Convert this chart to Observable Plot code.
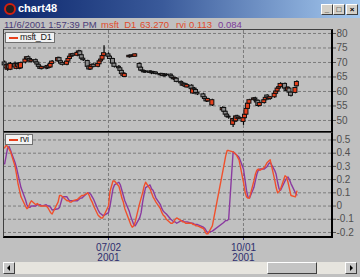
<!DOCTYPE html>
<html><head><meta charset="utf-8">
<script src="https://cdn.jsdelivr.net/npm/d3@7"></script>
<script src="https://cdn.jsdelivr.net/npm/@observablehq/plot@0.6"></script>
<style>
body{margin:0;background:#c0c0c0;font-family:"Liberation Sans",Arial,sans-serif;}
#win{position:relative;width:360px;height:277px;background:#c0c0c0;overflow:hidden;}
#title{position:absolute;left:0;top:0;width:360px;height:18px;background:linear-gradient(to right,#0a246a 0%,#3a5a9a 45%,#a6caf0 100%);}
#title .t{position:absolute;left:18px;top:2px;color:#fff;font-weight:bold;font-size:11px;}
#title .ic{position:absolute;left:4px;top:3px;width:8px;height:8px;border:2px solid #d02010;border-radius:50%;background:#222;}
.btn{position:absolute;top:4px;width:10px;height:9px;background:#d4d0c8;border:1px solid;border-color:#fff #404040 #404040 #fff;font-size:8px;line-height:9px;text-align:center;color:#000;font-weight:bold;}
.info{position:absolute;top:19px;font-size:9.5px;white-space:nowrap;}
.frame{position:absolute;box-sizing:border-box;border-left:1px solid #404040;border-top:1px solid #404040;border-right:2px solid #000;border-bottom:2px solid #000;pointer-events:none;}
.leg{position:absolute;box-sizing:border-box;background:#f2f2f2;border:1px solid #707070;font-size:9px;letter-spacing:-0.3px;color:#202020;}
.leg .ln{position:absolute;left:3px;top:4px;width:9px;height:2px;background:#e8401c;}
.leg .tx{position:absolute;left:14px;top:-1px;}
#upper,#lower{position:absolute;left:0;}
#upper{top:29px;} #lower{top:132px;}
#upper g[aria-label^="y-axis"], #lower g[aria-label^="y-axis"]{color:#505050;}
#lower g[aria-label^="x-axis"]{color:#2e2e6e;}
#sb{position:absolute;left:3px;top:262px;width:354px;height:12px;background:#e6e4de;}
.sbb{position:absolute;top:0;width:10px;height:10px;background:#c8c8c8;border:1px solid;border-color:#fff #404040 #404040 #fff;}
.tri{position:absolute;top:2px;width:0;height:0;border-top:3px solid transparent;border-bottom:3px solid transparent;}
#thumb{position:absolute;left:264px;top:0;width:48px;height:10px;background:#c4c4c4;border:1px solid;border-color:#fff #404040 #404040 #fff;}
</style></head><body>
<div id="win">
  <div id="title"><div class="ic"></div><div class="t">chart48</div>
    <div class="btn" style="left:321px">_</div><div class="btn" style="left:333px">□</div><div class="btn" style="left:346px">×</div>
  </div>
  <span class="info" style="left:4px;color:#4b3d78">11/6/2001 1:57:39 PM</span>
  <span class="info" style="left:101px;color:#e04a2a">msft_D1</span>
  <span class="info" style="left:140px;color:#e04a2a">63.270</span>
  <span class="info" style="left:176px;color:#e04a2a">rvi</span>
  <span class="info" style="left:189px;color:#e04a2a">0.113</span>
  <span class="info" style="left:218px;color:#7d3a9a">0.084</span>
  <div id="upper"></div>
  <div id="lower"></div>
  <div class="frame" style="left:3px;top:29px;width:330px;height:104px"></div>
  <div class="frame" style="left:3px;top:132px;width:330px;height:106px"></div>
  <div class="leg" style="left:5px;top:32px;width:50px;height:11px"><div class="ln"></div><div class="tx">msft_D1</div></div>
  <div class="leg" style="left:5px;top:134px;width:28px;height:11px"><div class="ln"></div><div class="tx">rvi</div></div>
  <div id="sb"><div class="sbb" style="left:0"><div class="tri" style="left:3px;border-right:3px solid #000"></div></div><div id="thumb"></div><div class="sbb" style="left:342px"><div class="tri" style="left:4px;border-left:3px solid #000"></div></div></div>
</div>
<script>
// trading days by month (2001), as [month, days]
const monthDays = [
  [4, [23,24,25,26,27,30]],
  [5, [1,2,3,4,7,8,9,10,11,14,15,16,17,18,21,22,23,24,25,29,30,31]],
  [6, [1,4,5,6,7,8,11,12,13,14,15,18,19,20,21,22,25,26,27,28,29]],
  [7, [2,3,5,6,9,10,11,12,13,16,17,18,19,20,23,24,25,26,27,30,31]],
  [8, [1,2,3,6,7,8,9,10,13,14,15,16,17,20,21,22,23,24,27,28,29,30,31]],
  [9, [4,5,6,7,10,17,18,19,20,21,24,25,26,27,28]],
  [10, [1,2,3,4,5,8,9,10,11,12,15,16,17,18,19,22,23,24,25,26,29,30,31]],
  [11, [1,2,5,6]]
];
const open = [70.0,69.0,67.5,69.0,67.5,69.5,67.8,69.5,67.8,68.0,
70.0,71.2,71.8,71.2,70.3,70.8,70.0,69.2,68.5,67.8,
68.5,68.0,68.8,68.3,69.5,70.4,71.5,70.4,69.8,69.2,
70.3,71.2,72.0,72.8,72.3,73.3,73.8,72.5,71.3,70.5,
68.6,67.6,68.4,69.2,68.5,69.4,70.4,71.0,72.3,72.8,
72.0,71.2,69.6,68.5,68.0,67.1,65.4,65.0,71.8,72.3,
72.0,72.4,72.0,69.5,68.2,67.2,67.0,66.6,66.9,66.4,
66.7,66.3,66.5,66.0,65.6,66.0,65.3,65.6,65.8,65.2,
64.6,64.2,64.4,63.3,62.8,62.0,62.5,61.4,62.0,59.3,
61.0,60.5,59.5,59.0,58.0,57.4,56.6,55.2,53.5,54.3,
53.0,52.0,51.3,48.5,50.5,49.7,51.4,50.6,49.5,50.8,
52.0,54.0,55.8,57.0,57.6,56.8,56.8,55.0,56.0,57.0,
58.6,57.9,57.4,58.0,59.2,60.0,61.0,61.5,62.6,61.0,
60.2,61.0,59.6,59.5,61.8];
const close = [69.0,68.0,69.2,67.8,69.5,68.3,69.5,68.5,69.3,69.8,
71.0,71.8,71.0,70.3,70.8,70.0,69.3,68.5,67.8,68.4,
68.0,68.8,68.2,69.5,70.3,71.5,70.4,69.6,69.2,70.3,
71.2,72.0,72.8,72.3,73.3,73.8,72.5,71.3,70.8,68.5,
67.6,68.6,69.2,68.5,69.5,70.4,71.0,72.2,73.2,72.0,
71.2,69.6,68.5,68.0,67.1,66.0,66.2,66.0,72.3,72.0,
72.4,72.1,72.8,68.2,67.2,67.0,66.6,66.9,66.4,66.7,
66.3,66.5,66.0,65.6,66.0,65.3,65.6,65.8,65.2,64.6,
64.2,64.6,63.3,62.8,62.0,62.5,61.6,62.2,60.8,61.0,
60.6,59.5,59.0,58.0,57.4,56.6,57.4,57.0,54.3,53.0,
52.0,51.3,51.0,50.5,49.7,51.4,50.6,51.0,50.8,52.0,
54.0,55.8,57.0,57.6,57.2,56.2,55.0,56.0,57.0,57.8,
57.9,57.4,58.0,59.2,60.0,61.0,61.5,62.6,61.0,60.2,
61.3,59.6,58.5,61.2,63.27];
const high = [70.5,69.5,69.5,69.8,70.0,70.2,69.8,70.0,69.6,70.2,
71.5,72.0,72.2,71.5,71.3,71.2,70.3,69.6,69.0,68.7,
68.9,69.2,69.2,69.8,70.7,71.9,71.8,70.8,70.1,70.6,
71.5,72.4,73.1,73.2,73.7,74.2,74.1,72.8,71.6,70.8,
69.0,68.9,69.5,69.6,69.9,70.7,71.3,72.6,75.8,73.3,
72.4,71.5,70.0,69.0,68.4,67.4,66.6,66.4,72.6,72.5,
72.7,72.8,73.0,69.8,68.5,67.5,67.3,67.2,67.2,67.0,
67.0,66.8,66.8,66.3,66.3,66.2,65.9,66.1,66.0,65.5,
64.9,64.9,64.6,63.6,63.1,62.8,62.8,62.5,62.3,61.3,
61.4,60.8,59.8,59.4,58.4,57.8,57.7,57.3,54.7,54.6,
53.3,52.4,51.7,50.8,50.9,51.8,51.8,51.4,51.1,52.3,
54.3,56.1,57.3,57.9,58.0,57.1,57.0,56.3,57.3,58.1,
58.9,58.2,58.3,59.5,60.3,61.3,61.8,63.0,62.9,61.3,
61.6,61.3,59.9,61.5,63.7];
const low = [68.5,67.5,67.0,67.5,67.2,68.0,67.5,68.0,67.5,67.8,
69.5,70.8,70.5,70.0,69.8,69.5,69.0,68.0,67.5,67.4,
67.5,67.6,67.8,68.0,69.2,70.1,70.0,69.2,68.8,68.9,
70.0,70.9,71.7,71.9,72.0,73.0,72.2,71.0,70.3,68.0,
67.2,67.3,68.1,68.2,68.2,69.1,70.0,70.7,72.0,71.6,
70.9,69.3,68.1,67.6,66.8,65.6,65.1,64.8,71.5,71.6,
71.7,71.8,71.8,67.8,66.9,66.6,66.2,66.3,66.0,65.8,
65.9,65.9,65.7,65.3,65.2,65.0,64.9,65.2,64.8,64.2,
63.8,63.8,63.0,62.4,61.7,61.7,61.3,61.1,60.5,59.0,
60.2,59.1,58.6,57.6,57.0,56.2,56.2,54.8,53.0,52.6,
51.6,50.9,50.4,47.6,49.2,49.3,50.2,50.2,48.3,50.5,
51.8,53.8,55.5,56.6,56.8,55.8,54.6,54.7,55.7,56.7,
57.5,57.0,57.0,57.7,58.9,59.7,60.6,61.2,60.7,59.9,
59.9,59.2,58.1,59.2,61.5];
const rvi = [0.44,0.46,0.45,0.43,0.41,0.30,0.24,0.17,0.12,0.07,
0.00,-0.02,-0.01,0.02,0.04,0.01,0.02,0.01,0.00,0.00,
0.00,-0.01,-0.03,-0.05,-0.06,0.03,0.08,0.08,0.07,0.04,
0.04,0.03,0.03,0.04,0.05,0.06,0.07,0.08,0.08,0.10,
0.08,0.05,0.03,0.00,-0.07,-0.08,-0.09,-0.09,-0.07,0.00,
0.11,0.19,0.19,0.15,0.11,0.06,0.03,-0.02,-0.11,-0.14,
-0.16,-0.15,-0.12,0.02,0.06,0.10,0.15,0.18,0.13,0.10,
0.07,0.05,0.03,-0.02,-0.05,-0.07,-0.08,-0.10,-0.13,-0.13,
-0.12,-0.10,-0.09,-0.11,-0.12,-0.12,-0.13,-0.13,-0.13,-0.14,
-0.14,-0.15,-0.15,-0.17,-0.19,-0.21,-0.21,-0.15,0.26,0.32,
0.38,0.42,0.42,0.41,0.40,0.39,0.37,0.35,0.18,0.11,
0.07,0.06,0.06,0.19,0.24,0.27,0.28,0.27,0.29,0.31,
0.33,0.34,0.35,0.20,0.14,0.10,0.11,0.13,0.23,0.22,
0.18,0.13,0.08,0.07,0.113];
const signal = [0.32,0.38,0.44,0.45,0.42,0.33,0.29,0.24,0.19,0.14,
0.05,0.01,-0.01,-0.01,0.00,0.00,0.01,0.01,0.01,0.00,
0.01,0.00,0.00,-0.01,-0.03,-0.02,-0.01,0.03,0.07,0.07,
0.05,0.04,0.04,0.04,0.04,0.05,0.06,0.06,0.07,0.10,
0.10,0.09,0.07,0.05,-0.03,-0.05,-0.06,-0.07,-0.07,-0.05,
0.00,0.13,0.16,0.18,0.16,0.12,0.08,0.04,-0.04,-0.08,
-0.11,-0.14,-0.15,-0.09,-0.05,0.03,0.09,0.14,0.16,0.13,
0.12,0.09,0.06,0.01,-0.02,-0.04,-0.05,-0.06,-0.10,-0.11,
-0.12,-0.12,-0.13,-0.11,-0.11,-0.12,-0.12,-0.12,-0.13,-0.13,
-0.14,-0.14,-0.14,-0.16,-0.17,-0.19,-0.20,-0.19,-0.13,-0.12,
-0.11,-0.11,-0.10,0.41,0.40,0.39,0.38,0.37,0.28,0.20,
0.12,0.07,0.06,0.14,0.19,0.24,0.27,0.28,0.28,0.29,
0.30,0.32,0.33,0.27,0.24,0.18,0.13,0.12,0.19,0.21,
0.22,0.20,0.17,0.10,0.084];
const priceTicks = [50,55,60,65,70,75,80];
const rviTicks = [-0.2,-0.1,0,0.1,0.2,0.3,0.4,0.5];
const gridDates = ["2001-07-02","2001-10-01"].map(s => new Date(s + "T00:00Z"));
const xDomain = [new Date(Date.UTC(2001,3,22,5,17)), new Date(Date.UTC(2001,10,30))];
const priceDomain = [46.2, 81.03];
const rviDomain = [-0.238, 0.549];

const dates = [];
for (const [m, ds] of monthDays) for (const d of ds) dates.push(new Date(Date.UTC(2001, m - 1, d)));
const bars = dates.map((date, i) => ({date, open: open[i], high: high[i], low: low[i], close: close[i], rvi: rvi[i], signal: signal[i]}));
const halfDay = 1.35 * 864e5;
const grid = {stroke: "#7c7c7c", strokeDasharray: "3,2", strokeWidth: 1};

const upper = Plot.plot({
  width: 360, height: 104, marginLeft: 3, marginRight: 28, marginTop: 1, marginBottom: 2,
  style: {background: "transparent", fontFamily: "Liberation Sans, Arial, sans-serif", fontSize: "10px", overflow: "visible"},
  x: {type: "utc", domain: xDomain, axis: null},
  y: {domain: priceDomain, axis: "right", ticks: priceTicks, tickSize: 3, tickPadding: 1, label: null},
  marks: [
    Plot.ruleY(priceTicks, grid),
    Plot.ruleX(gridDates, grid),
    Plot.ruleX(bars, {x: "date", y1: "low", y2: "high", stroke: "#000", strokeWidth: 1.2}),
    Plot.rect(bars, {x1: d => new Date(+d.date - halfDay), x2: d => new Date(+d.date + halfDay), y1: "open", y2: "close",
      fill: d => d.close >= d.open ? "#e8401c" : "#8c8c8c", stroke: "#111", strokeWidth: 1})
  ]
});
document.getElementById("upper").append(upper);

const lower = Plot.plot({
  width: 360, height: 130, marginLeft: 3, marginRight: 28, marginTop: 1, marginBottom: 25,
  style: {background: "transparent", fontFamily: "Liberation Sans, Arial, sans-serif", fontSize: "10px", overflow: "visible"},
  x: {type: "utc", domain: xDomain, ticks: gridDates, tickFormat: d3.utcFormat("%m/%d\n%Y"), tickSize: 3, tickPadding: 3, label: null},
  y: {domain: rviDomain, axis: "right", ticks: rviTicks, tickFormat: d => String(Math.round(d * 10) / 10), tickSize: 3, tickPadding: 1, label: null},
  marks: [
    Plot.ruleY(rviTicks, grid),
    Plot.ruleX(gridDates, grid),
    Plot.line(bars, {x: "date", y: "signal", stroke: "#8a3aa0", strokeWidth: 1.4}),
    Plot.line(bars, {x: "date", y: "rvi", stroke: "#f0502c", strokeWidth: 1.4})
  ]
});
document.getElementById("lower").append(lower);
</script>
</body></html>
